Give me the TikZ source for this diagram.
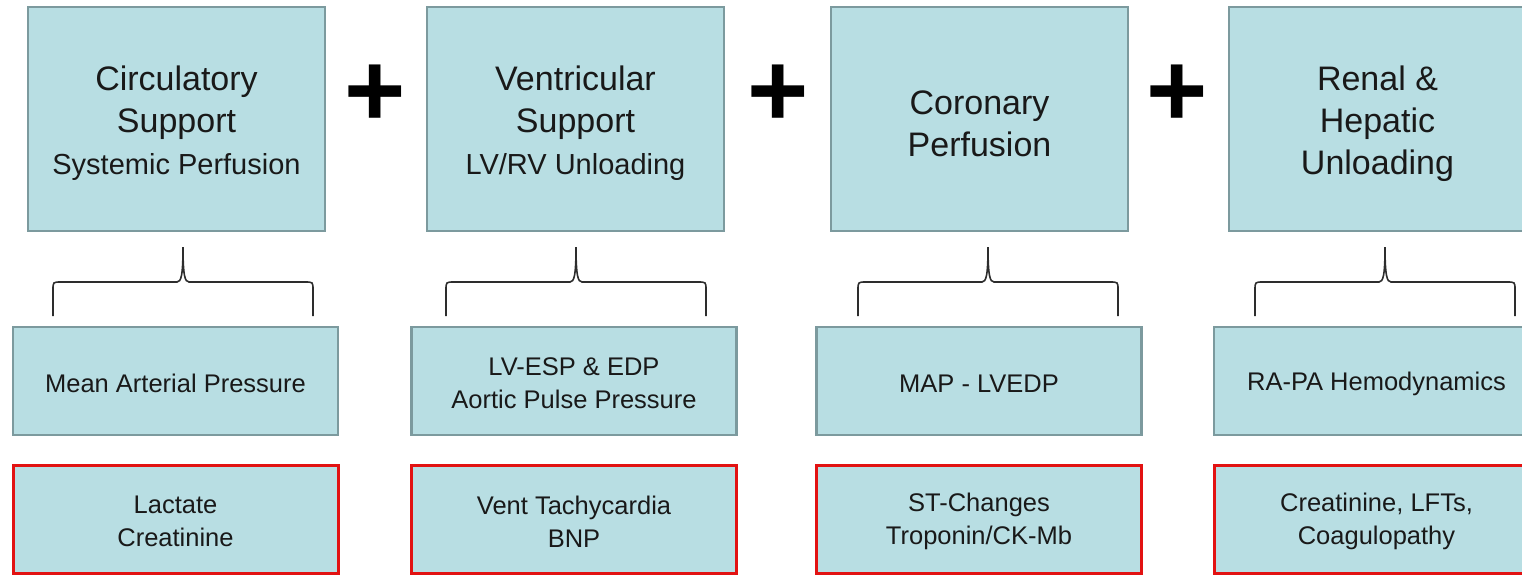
\documentclass[tikz,border=0pt]{standalone}
\usepackage{fontspec}
\setmainfont{Liberation Sans}
\definecolor{boxfill}{RGB}{184,222,227}
\definecolor{boxedge}{RGB}{124,154,158}
\definecolor{redline}{RGB}{226,18,18}
\definecolor{txt}{RGB}{25,25,25}
\definecolor{bracecol}{RGB}{45,45,45}
\tikzset{
  boxbase/.style={draw=boxedge, fill=boxfill, line width=2.8pt, inner sep=0pt},
  toptext/.style={align=center, text=txt, inner sep=0pt, yshift=-4.5pt,
    font=\fontsize{34}{42}\selectfont},
  lowtext/.style={align=center, text=txt, inner sep=0pt, yshift=-2.5pt,
    font=\fontsize{25.5}{33}\selectfont},
  topbox/.style={boxbase, minimum width=297pt, minimum height=224pt},
  midbox/.style={boxbase, minimum width=325pt, minimum height=108pt},
  redbox/.style={midbox, draw=redline, line width=3pt},
  plussign/.style={font=\fontsize{105}{105}\selectfont\bfseries, inner sep=0pt, text=black},
  bracepath/.style={draw=bracecol, line width=1.6pt},
  upbrace/.pic={
    \draw[bracepath] (-130,70) -- (-130,44) .. controls (-130,36) .. (-122,36)
      -- (-6,36) .. controls (-2,36) and (0,30) .. (0,1)
      .. controls (0,30) and (2,36) .. (6,36) -- (122,36)
      .. controls (130,36) .. (130,44) -- (130,70);
  }
}
\newcommand{\subline}[1]{{\fontsize{29}{39}\selectfont #1}}
\begin{document}
\begin{tikzpicture}[x=1pt,y=-1pt]
  \useasboundingbox (0,0) rectangle (1522,574);

  % goals
  \node[topbox, label={[toptext]center:{Circulatory\\Support\\\subline{Systemic Perfusion}}}] (circ) at (176.5,119) {};
  \node[topbox, label={[toptext]center:{Ventricular\\Support\\\subline{LV/RV Unloading}}}] (vent) at (575.5,119) {};
  \node[topbox, label={[toptext]center:{Coronary\\Perfusion}}] (coro) at (979.5,119) {};
  \node[topbox, label={[toptext]center:{Renal \&\\Hepatic\\Unloading}}] (renal) at (1377.5,119) {};

  \node[plussign] (p1) at (375,96) {+};
  \node[plussign] (p2) at (778,96) {+};
  \node[plussign] (p3) at (1177,96) {+};

  % braces under each goal
  \pic (br1) at (183,246) {upbrace};
  \pic (br2) at (576,246) {upbrace};
  \pic (br3) at (988,246) {upbrace};
  \pic (br4) at (1385,246) {upbrace};

  % hemodynamic measures
  \node[midbox, label={[lowtext]center:{Mean Arterial Pressure}}] (map) at (175.5,381) {};
  \node[midbox, label={[lowtext]center:{LV-ESP \& EDP\\Aortic Pulse Pressure}}] (lvesp) at (574,381) {};
  \node[midbox, label={[lowtext]center:{MAP - LVEDP}}] (maplv) at (979,381) {};
  \node[midbox, label={[lowtext]center:{RA-PA Hemodynamics}}] (rapa) at (1376.5,381) {};

  % clinical markers
  \node[redbox, label={[lowtext]center:{Lactate\\Creatinine}}] (lact) at (175.5,519) {};
  \node[redbox, label={[lowtext]center:{Vent Tachycardia\\BNP}}] (vt) at (574,519) {};
  \node[redbox, label={[lowtext]center:{ST-Changes\\Troponin/CK-Mb}}] (st) at (979,519) {};
  \node[redbox, label={[lowtext]center:{Creatinine, LFTs,\\Coagulopathy}}] (creat) at (1376.5,519) {};
\end{tikzpicture}
\end{document}
